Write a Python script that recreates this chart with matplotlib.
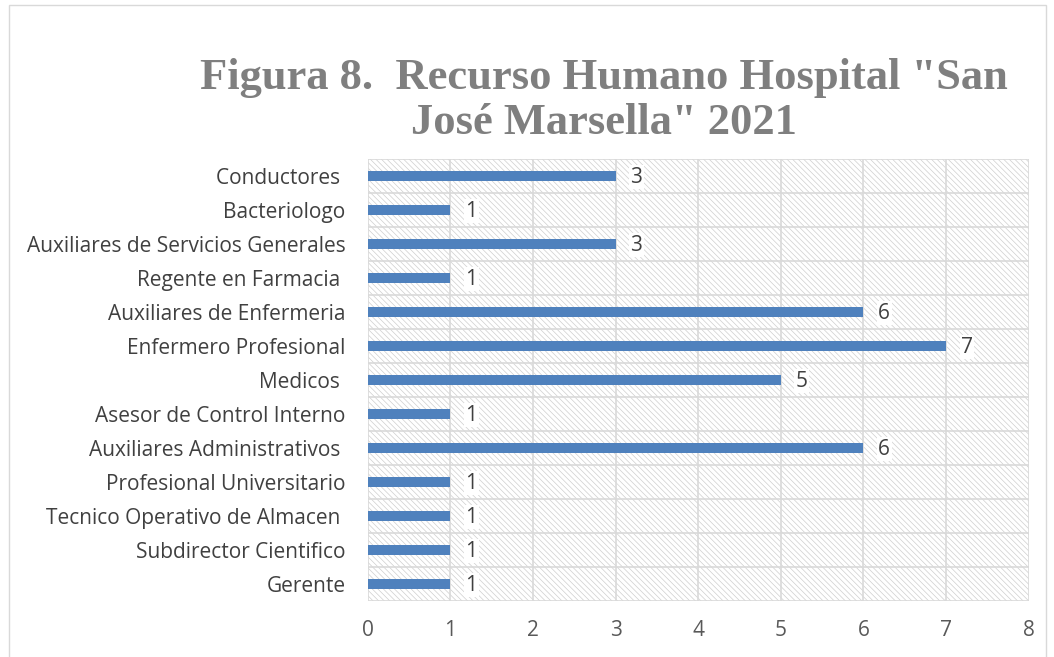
import matplotlib
matplotlib.use('Agg')
import matplotlib.pyplot as plt
from matplotlib.patches import Rectangle

# === Data ===
categories = ['Gerente', 'Subdirector Cientifico', 'Tecnico Operativo de Almacen ',
              'Profesional Universitario', 'Auxiliares Administrativos ',
              'Asesor de Control Interno', 'Medicos ', 'Enfermero Profesional',
              'Auxiliares de Enfermeria', 'Regente en Farmacia ',
              'Auxiliares de Servicios Generales', 'Bacteriologo', 'Conductores ']
values = [1, 1, 1, 1, 6, 1, 5, 7, 6, 1, 3, 1, 3]
x_ticks = [0, 1, 2, 3, 4, 5, 6, 7, 8]

BAR_BLUE = '#4F81BD'
GRID = '#D9D9D9'
TXT = '#404040'
TICK = '#595959'
TITLE_GREY = '#7F7F7F'
FS = 15

plt.rcParams['font.family'] = ['Open Sans', 'DejaVu Sans']
plt.rcParams['hatch.linewidth'] = 0.5

fig = plt.figure(figsize=(10.54, 6.57), dpi=100, facecolor='white')
ax = fig.add_axes([0.349, 0.0853, 0.627, 0.6727])

# hatched background
bg = Rectangle((0, 0), 1, 1, transform=ax.transAxes, facecolor='white',
               edgecolor='#CFCFCF', hatch='\\\\\\\\\\\\', linewidth=0, zorder=0)
ax.add_patch(bg)

y = list(range(len(categories)))
ax.barh(y, values, height=0.3, color=BAR_BLUE, zorder=3)

for yi, v in zip(y, values):
    ax.text(v + 0.18, yi - 0.04, str(v), ha='left', va='center', fontsize=FS,
            color=TXT, zorder=4,
            bbox=dict(facecolor='white', edgecolor='none', pad=1))

ax.set_xlim(0, 8)
ax.set_ylim(-0.5, len(categories) - 0.5)
ax.set_xticks(x_ticks)
ax.set_xticklabels([str(t) for t in x_ticks], fontsize=FS, color=TICK)
ax.set_yticks(y)
ax.set_yticklabels(categories, fontsize=FS, color=TXT)

for xv in x_ticks:
    ax.axvline(xv, color=GRID, linewidth=1.2, zorder=1)
for k in range(len(categories) + 1):
    ax.axhline(k - 0.5, color=GRID, linewidth=1.2, zorder=1)

for s in ax.spines.values():
    s.set_visible(False)
ax.tick_params(axis='x', length=0, pad=14)
ax.tick_params(axis='y', length=0, pad=16)

fig.text(0.573, 0.881, 'Figura 8.  Recurso Humano Hospital "San',
         ha='center', va='center', fontsize=32, fontweight='bold',
         color=TITLE_GREY, family='Liberation Serif')
fig.text(0.573, 0.813, 'José Marsella" 2021',
         ha='center', va='center', fontsize=32, fontweight='bold',
         color=TITLE_GREY, family='Liberation Serif')

# outer chart border
fig.patches.append(Rectangle((0.009, -0.01), 0.983, 1.002, transform=fig.transFigure,
                             fill=False, edgecolor='#D9D9D9', linewidth=1))

fig.savefig('out.png', dpi=100, facecolor='white')
